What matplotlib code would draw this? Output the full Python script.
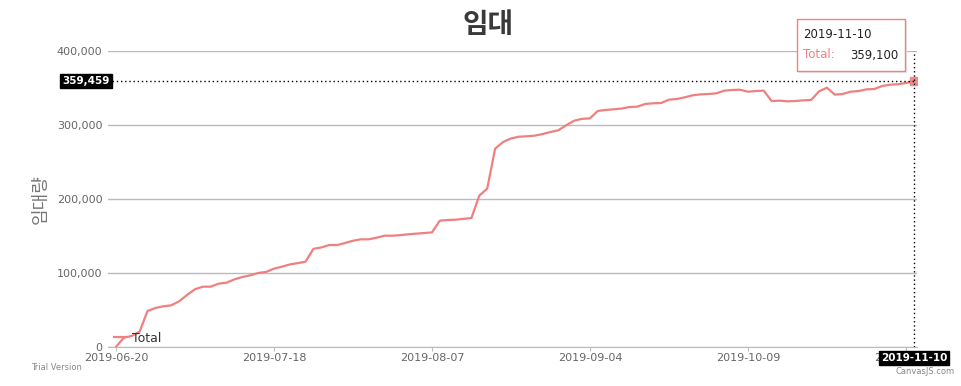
import matplotlib
matplotlib.use('Agg')
import matplotlib.pyplot as plt
import matplotlib.transforms as mtransforms
from matplotlib.patches import Rectangle
from matplotlib.ticker import FuncFormatter

# 누적 임대량 (Total), 102 points, categories on x
total = [
    0, 12600, 14900, 20700, 48600, 52700, 55000, 56300, 61700, 70300,
    78000, 81500, 81500, 85600, 86900, 91400, 94600, 96800, 100000, 101400,
    105800, 108500, 111500, 113300, 115300, 132600, 134500, 137800, 137800, 140500,
    143600, 145500, 145500, 147700, 150400, 150400, 151200, 152300, 153200, 154000,
    154800, 170700, 171600, 172000, 173200, 174300, 204500, 214000, 268000, 277000,
    281800, 284200, 284700, 285600, 287800, 290500, 292900, 299600, 305800, 308300,
    309000, 319000, 320300, 321200, 322200, 324300, 324800, 328400, 329300, 329700,
    334200, 335100, 337400, 340100, 341400, 341900, 342800, 346400, 347300, 347700,
    345000, 345900, 346400, 332400, 332900, 332000, 332400, 333300, 333800, 345500,
    350400, 341000, 341900, 345000, 345900, 348200, 348600, 352700, 354500, 355000,
    356800, 359100,
]
tick_idx = [0, 20, 40, 60, 80, 100]
tick_labels = ['2019-06-20', '2019-07-18', '2019-08-07', '2019-09-04', '2019-10-09', '2019-11-09']
last_label = '2019-11-10'
y_ticks = [0, 100000, 200000, 300000, 400000]
cross_y = 359459

LINE = '#F08080'
GRID = '#bbbbbb'
CJK = ['Noto Sans CJK KR', 'DejaVu Sans']

W, H = 961, 386
fig = plt.figure(figsize=(W / 100, H / 100), dpi=100)
ax = fig.add_axes([108 / W, (H - 347) / H, (917 - 108) / W, (347 - 51) / H])

xs = list(range(len(total)))
ax.plot(xs, total, color=LINE, lw=1.6, label='Total', zorder=3)
ax.plot(xs[-1], total[-1], marker='s', ms=6, color=LINE, alpha=0.9, zorder=4)

ax.set_xlim(-1.0, 101.4)
ax.set_ylim(0, 400000)
ax.set_yticks(y_ticks)
ax.yaxis.set_major_formatter(FuncFormatter(lambda v, p: f'{int(v):,}'))
ax.set_xticks(tick_idx)
ax.set_xticklabels(tick_labels)
ax.grid(axis='y', color=GRID, lw=1)
ax.set_axisbelow(True)
for s in ['top', 'right', 'left']:
    ax.spines[s].set_visible(False)
ax.spines['bottom'].set_color(GRID)
ax.tick_params(axis='y', length=0, pad=4, labelsize=8, labelcolor='#666666')
ax.tick_params(axis='x', length=3, color=GRID, pad=1, labelsize=8, labelcolor='#666666')

# crosshair
ax.hlines(cross_y, -1.0, xs[-1], colors='black', linestyles=(0, (1, 2)), lw=1, zorder=5)
ax.vlines(xs[-1], 0, 400000, colors='black', linestyles=(0, (1, 2)), lw=1, zorder=5)
tr_y = mtransforms.blended_transform_factory(ax.transAxes, ax.transData)
ax.text(0.002, cross_y, f'{cross_y:,}', transform=tr_y, ha='right', va='center',
        fontsize=7.5, weight='bold', color='white', clip_on=False, zorder=10,
        bbox=dict(boxstyle='square,pad=0.2', fc='black', ec='black'))
tr_x = mtransforms.blended_transform_factory(ax.transData, ax.transAxes)
ax.text(xs[-1], -0.036, last_label, transform=tr_x, ha='center', va='center',
        fontsize=7.5, weight='bold', color='white', clip_on=False, zorder=10,
        bbox=dict(boxstyle='square,pad=0.2', fc='black', ec='black'))

# legend
ax.legend(loc='center left', bbox_to_anchor=(114 / W, 1 - 338 / H),
          bbox_transform=fig.transFigure, frameon=False, fontsize=9,
          handlelength=0.9, handletextpad=0.55, borderpad=0, borderaxespad=0,
          labelcolor='#333333')

# tooltip
fig.add_artist(Rectangle((799 / W, 1 - 73 / H), 108 / W, 52 / H, transform=fig.transFigure,
                         fc='#e8e8e8', ec='none', zorder=8))
fig.add_artist(Rectangle((797 / W, 1 - 71 / H), 108 / W, 52 / H, transform=fig.transFigure,
                         fc='white', ec=LINE, lw=1, zorder=9))
fig.text(803 / W, 1 - 35 / H, last_label, fontsize=8.5, color='#222222', va='center', zorder=10)
fig.text(803 / W, 1 - 55 / H, 'Total:', fontsize=8.5, color=LINE, va='center', zorder=10)
fig.text(850 / W, 1 - 55 / H, f'{total[-1]:,}', fontsize=8.5, color='#222222', va='center', zorder=10)

# titles
fig.text(488 / W, 1 - 25 / H, '임대', fontsize=20, weight='bold', color='#3a3a3a',
         ha='center', va='center', family=CJK)
fig.text(41 / W, 1 - 199 / H, '임대량', fontsize=13, rotation=90, color='#777777',
         ha='center', va='center', family=CJK)

fig.text(31 / W, 1 - 367 / H, 'Trial Version', fontsize=6, color='#888888', va='center')
fig.text(955 / W, 1 - 371 / H, 'CanvasJS.com', fontsize=6, color='#888888', va='center', ha='right')

fig.savefig('out.png', dpi=100)
